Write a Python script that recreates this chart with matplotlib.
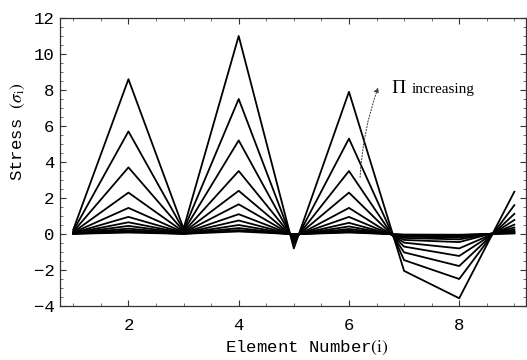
import numpy as np
import matplotlib.pyplot as plt
from matplotlib.ticker import MultipleLocator

plt.rcParams['mathtext.fontset'] = 'stix'

# element numbers
element = [1, 2, 3, 4, 5, 6, 7, 8, 9]

# stress per element, one row per value of Pi (largest first)
stress_1 = [0.25, 8.6, 0.30, 11.0, -0.80, 7.9, -2.05, -3.57, 2.35]
stress_2 = [0.18, 5.7, 0.22, 7.5, -0.55, 5.3, -1.45, -2.50, 1.60]
stress_3 = [0.13, 3.7, 0.16, 5.2, -0.38, 3.5, -1.02, -1.78, 1.12]
stress_4 = [0.10, 2.3, 0.12, 3.5, -0.26, 2.3, -0.70, -1.22, 0.78]
stress_5 = [0.08, 1.45, 0.09, 2.4, -0.18, 1.45, -0.48, -0.80, 0.52]
stress_6 = [0.06, 0.95, 0.07, 1.65, -0.12, 0.95, -0.33, -0.45, 0.36]
stress_7 = [0.05, 0.65, 0.05, 1.1, -0.08, 0.62, -0.22, -0.30, 0.25]
stress_8 = [0.04, 0.45, 0.04, 0.75, -0.06, 0.42, -0.15, -0.20, 0.17]
stress_9 = [0.03, 0.30, 0.03, 0.50, -0.04, 0.28, -0.10, -0.13, 0.12]
stress_10 = [0.02, 0.20, 0.02, 0.33, -0.03, 0.19, -0.07, -0.09, 0.08]
stress_11 = [0.01, 0.13, 0.01, 0.22, -0.02, 0.12, -0.05, -0.06, 0.05]
stress_12 = [0.01, 0.08, 0.01, 0.14, -0.01, 0.08, -0.03, -0.04, 0.03]

curves = [stress_1, stress_2, stress_3, stress_4, stress_5, stress_6,
          stress_7, stress_8, stress_9, stress_10, stress_11, stress_12]

fig = plt.figure(figsize=(5.27, 3.6), dpi=100)
ax = fig.add_axes([0.114, 0.15, 0.885, 0.80])

for s in curves:
    ax.plot(element, s, color='black', lw=1.3)

ax.set_xlim(0.76, 9.22)
ax.set_ylim(-4, 12)
ax.xaxis.set_major_locator(MultipleLocator(2))
ax.xaxis.set_minor_locator(MultipleLocator(0.5))
ax.yaxis.set_major_locator(MultipleLocator(2))
ax.yaxis.set_minor_locator(MultipleLocator(0.5))
ax.tick_params(which='both', direction='in', top=True, right=True, color='#333333')
ax.tick_params(which='major', length=4, width=0.8)
ax.tick_params(which='minor', length=2, width=0.5)
ax.tick_params(axis='x', pad=9)
ax.tick_params(axis='y', pad=4)
for lab in ax.get_xticklabels() + ax.get_yticklabels():
    lab.set_family('Liberation Mono')
    lab.set_fontsize(12.5)
for sp in ax.spines.values():
    sp.set_linewidth(0.9)
    sp.set_color('#333333')

ax.set_xlabel(r"Element Number$(\mathrm{i})$", family='Liberation Mono', fontsize=12.5)
ax.xaxis.set_label_coords(0.529, -0.115)
ax.set_ylabel(r"Stress $(\sigma_{\mathrm{i}})$", family='Liberation Mono', fontsize=12.5)
ax.yaxis.set_label_coords(-0.07, 0.604)

# Pi increasing annotation
ax.annotate('', xy=(6.55, 8.3), xytext=(6.2, 3.0),
            arrowprops=dict(arrowstyle='-|>', linestyle=':', lw=0.8,
                            color='#444444', mutation_scale=7,
                            connectionstyle='arc3,rad=-0.08'))
ax.text(6.77, 7.85, u'\u03a0', family='Liberation Serif', fontsize=14, va='baseline')
ax.text(7.13, 7.85, 'increasing', family='Liberation Serif', fontsize=11, va='baseline')

fig.savefig('out.png', dpi=100)
